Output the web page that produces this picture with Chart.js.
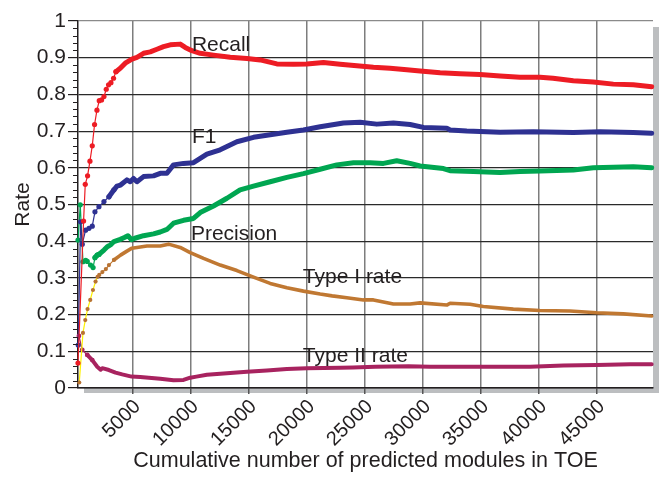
<!DOCTYPE html>
<html>
<head>
<meta charset="utf-8">
<script src="https://cdn.jsdelivr.net/npm/chart.js@4/dist/chart.umd.min.js"></script>
<style>
  html, body { margin: 0; padding: 0; background: #ffffff; }
  #wrap { width: 667px; height: 481px; }
</style>
</head>
<body>
<div id="wrap"><canvas id="c" width="667" height="481"></canvas></div>
<script>
// ---- data ----
const xTickValues = [5000, 10000, 15000, 20000, 25000, 30000, 35000, 40000, 45000];
const yTickValues = [0, 0.1, 0.2, 0.3, 0.4, 0.5, 0.6, 0.7, 0.8, 0.9, 1];

const recallX = [300, 780, 926, 1124, 1330, 1529, 1727, 1934, 2132, 2330, 2537, 2735, 2933, 3140, 3363, 3570, 3940, 4371, 4948, 5379, 5947, 6524, 7102, 7670, 8247, 9108, 9539, 10116, 10831, 11976, 13415, 14853, 16000, 17437, 18867, 20021, 21451, 22889, 24327, 25757, 27195, 28634, 29779, 31502, 33224, 34947, 36670, 38392, 40115, 41235, 42983, 44706, 46428, 48151, 49736];
const recallY = [0.068, 0.455, 0.555, 0.578, 0.618, 0.660, 0.718, 0.757, 0.783, 0.785, 0.794, 0.814, 0.826, 0.832, 0.844, 0.862, 0.871, 0.885, 0.896, 0.901, 0.912, 0.916, 0.923, 0.930, 0.935, 0.937, 0.928, 0.919, 0.912, 0.907, 0.901, 0.898, 0.894, 0.883, 0.882, 0.883, 0.887, 0.882, 0.878, 0.874, 0.871, 0.867, 0.864, 0.859, 0.856, 0.854, 0.850, 0.847, 0.847, 0.844, 0.837, 0.834, 0.828, 0.826, 0.821];

const f1X = [320, 521, 667, 952, 1245, 1529, 1761, 2106, 2537, 2967, 3398, 3656, 3966, 4517, 4802, 5086, 5379, 5947, 6808, 7386, 7963, 8531, 9392, 10253, 11408, 12553, 13992, 15422, 16860, 18298, 19728, 21167, 23173, 24612, 26050, 27480, 28918, 30063, 32079, 32363, 33801, 36670, 39538, 42983, 45279, 48151, 49736];
const f1Y = [0.117, 0.453, 0.392, 0.430, 0.435, 0.441, 0.480, 0.494, 0.508, 0.521, 0.540, 0.550, 0.553, 0.567, 0.562, 0.571, 0.562, 0.576, 0.578, 0.585, 0.585, 0.608, 0.612, 0.614, 0.637, 0.649, 0.671, 0.683, 0.690, 0.697, 0.703, 0.712, 0.722, 0.724, 0.719, 0.722, 0.718, 0.710, 0.708, 0.703, 0.700, 0.697, 0.698, 0.696, 0.698, 0.696, 0.694];

const precisionX = [300, 495, 728, 960, 1100, 1382, 1600, 1760, 1950, 2106, 2537, 2821, 3100, 3398, 3940, 4300, 4600, 4900, 5200, 5947, 6808, 7386, 7963, 8531, 9392, 10253, 10831, 11976, 13134, 14267, 15422, 16860, 18298, 19728, 21167, 22600, 24040, 25470, 26620, 27765, 28918, 29779, 31790, 32363, 34374, 36670, 38392, 40115, 42983, 44706, 48151, 49736];
const precisionY = [0.403, 0.499, 0.344, 0.348, 0.345, 0.335, 0.328, 0.355, 0.362, 0.364, 0.376, 0.385, 0.390, 0.399, 0.405, 0.410, 0.415, 0.404, 0.408, 0.415, 0.420, 0.425, 0.432, 0.449, 0.457, 0.462, 0.478, 0.496, 0.517, 0.540, 0.550, 0.562, 0.574, 0.584, 0.596, 0.608, 0.614, 0.614, 0.612, 0.619, 0.612, 0.605, 0.598, 0.592, 0.590, 0.587, 0.590, 0.591, 0.594, 0.600, 0.603, 0.600];

const typeIX = [409, 728, 926, 1124, 1356, 1589, 1813, 1990, 2132, 2400, 2700, 2967, 3398, 3966, 4517, 4948, 6240, 7386, 8100, 9108, 9969, 11120, 12553, 13992, 15422, 16860, 18298, 19728, 21167, 22200, 23464, 24894, 25757, 27480, 28918, 29779, 32079, 32363, 34086, 35231, 37814, 40115, 42699, 44999, 47296, 49736];
const typeIY = [0.015, 0.150, 0.185, 0.215, 0.240, 0.267, 0.290, 0.303, 0.308, 0.316, 0.324, 0.335, 0.349, 0.362, 0.373, 0.381, 0.387, 0.387, 0.392, 0.383, 0.369, 0.353, 0.335, 0.320, 0.302, 0.285, 0.273, 0.264, 0.256, 0.251, 0.246, 0.240, 0.240, 0.229, 0.229, 0.232, 0.226, 0.231, 0.228, 0.222, 0.215, 0.211, 0.210, 0.205, 0.202, 0.196];

const typeIIX = [380, 667, 1098, 1529, 1959, 2250, 2390, 2967, 3536, 4113, 4914, 5663, 7386, 8531, 9392, 9969, 10500, 11408, 13134, 14853, 16574, 18298, 20021, 22889, 24000, 25900, 28777, 30634, 33500, 36391, 39260, 42125, 44999, 47870, 49736];
const typeIIY = [0.142, 0.104, 0.090, 0.076, 0.058, 0.050, 0.054, 0.049, 0.042, 0.037, 0.031, 0.030, 0.025, 0.021, 0.022, 0.028, 0.031, 0.036, 0.040, 0.044, 0.048, 0.052, 0.054, 0.055, 0.056, 0.058, 0.059, 0.058, 0.058, 0.058, 0.058, 0.061, 0.063, 0.065, 0.065];

const seriesNames = ['Recall', 'F1', 'Precision', 'Type I rate', 'Type II rate'];
// label anchors (data coordinates) for the in-plot series names
const labelAtX = [10116, 10116, 10030, 19676, 19676];
const labelAtY = [0.918, 0.667, 0.403, 0.285, 0.0717];

// ---- styling ----
const TEXT = '#231f20';
const FONT = "'Liberation Sans', Arial, Helvetica, sans-serif";

function mk(name, xs, ys, color, o) {
  return {
    label: name,
    data: xs.map((x, i) => ({ x: x, y: ys[i] })),
    borderColor: color,
    backgroundColor: o.pointColor || color,
    pointBackgroundColor: o.pointColor || color,
    pointBorderWidth: 0,
    pointHoverRadius: 0,
    pointRadius: ctx => (ctx.raw && ctx.raw.x < o.markUntil) ? o.r : 0,
    borderWidth: o.w,
    borderJoinStyle: 'round',
    borderCapStyle: 'round',
    tension: 0,
    clip: false,
    segment: {
      borderWidth: ctx => ctx.p1.parsed.x <= o.thinUntil ? 1.2 : o.w,
      borderColor: ctx => (o.earlyColor && ctx.p1.parsed.x <= o.earlyUntil) ? o.earlyColor : color
    }
  };
}

const decor = {
  id: 'decor',
  beforeDraw(chart) {
    const { ctx, chartArea: a } = chart;
    ctx.save();
    ctx.fillStyle = '#bcbec0';
    ctx.fillRect(a.left + 6, a.top + 6, a.right - a.left, a.bottom - a.top - 1);
    ctx.fillStyle = '#ffffff';
    ctx.fillRect(a.left, a.top, a.right - a.left, a.bottom - a.top);
    ctx.restore();
  },
  afterDraw(chart) {
    const { ctx, chartArea: a, scales } = chart;
    const ys = scales.y;
    ctx.save();
    ctx.strokeStyle = TEXT;
    ctx.lineWidth = 1;
    for (let k = 0; k <= 50; k++) {
      if (k % 5 === 0) continue;
      const py = Math.round(ys.getPixelForValue(k / 50)) + 0.5;
      ctx.beginPath();
      ctx.moveTo(a.left - 5, py);
      ctx.lineTo(a.left, py);
      ctx.stroke();
    }
    ctx.restore();
  },
  afterDatasetsDraw(chart) {
    const { ctx, scales } = chart;
    ctx.save();
    ctx.fillStyle = TEXT;
    ctx.font = '21px ' + FONT;
    ctx.textAlign = 'left';
    ctx.textBaseline = 'alphabetic';
    seriesNames.forEach((n, i) => {
      ctx.fillText(n, scales.x.getPixelForValue(labelAtX[i]), scales.y.getPixelForValue(labelAtY[i]));
    });
    ctx.restore();
  }
};

new Chart(document.getElementById('c'), {
  type: 'line',
  data: {
    datasets: [
      mk('Recall', recallX, recallY, '#ed1c24', { w: 5, r: 2.6, thinUntil: 3570, markUntil: 3700 }),
      mk('F1', f1X, f1Y, '#2e3192', { w: 5, r: 2.6, thinUntil: 2967, markUntil: 3500 }),
      mk('Precision', precisionX, precisionY, '#00a651', { w: 5, r: 2.6, thinUntil: 1760, markUntil: 2200 }),
      mk('Type I rate', typeIX, typeIY, '#c07832', { w: 3.6, r: 2.1, thinUntil: 3398, markUntil: 3500, earlyColor: '#fff200', earlyUntil: 2132, pointColor: '#b87333' }),
      mk('Type II rate', typeIIX, typeIIY, '#a8235f', { w: 4, r: 2.4, thinUntil: 1098, markUntil: 1600 })
    ]
  },
  options: {
    responsive: false,
    animation: false,
    events: [],
    layout: { padding: { top: 21, right: 14, bottom: 0, left: 0 } },
    plugins: { legend: { display: false }, tooltip: { enabled: false }, title: { display: false } },
    scales: {
      x: {
        type: 'linear',
        min: 300,
        max: 49850,
        afterFit: s => { s.height = 93; },
        afterBuildTicks: s => { s.ticks = xTickValues.map(v => ({ value: v })); },
        ticks: {
          autoSkip: false,
          minRotation: 45,
          maxRotation: 45,
          color: TEXT,
          font: { family: FONT, size: 20 },
          padding: 1,
          labelOffset: 5,
          callback: v => String(v)
        },
        grid: { color: '#7d7d7d', lineWidth: 1.5, drawTicks: true, tickLength: 6, tickColor: '#555555' },
        border: { display: true, color: TEXT, width: 1.5 },
        title: {
          display: true,
          text: 'Cumulative number of predicted modules in TOE',
          color: TEXT,
          font: { family: FONT, size: 21.5 },
          padding: { top: 0, bottom: 7 }
        }
      },
      y: {
        type: 'linear',
        min: 0,
        max: 1,
        afterFit: s => { s.width = 78; },
        afterBuildTicks: s => { s.ticks = yTickValues.map(v => ({ value: v })); },
        ticks: {
          color: TEXT,
          font: { family: FONT, size: 21 },
          padding: 2,
          callback: v => String(+v.toFixed(1))
        },
        grid: {
          color: ctx => (ctx.tick && ctx.tick.value === 1) ? '#8a8a8a' : '#2a2a2a',
          lineWidth: 1.2, drawTicks: true, tickLength: 10, tickColor: TEXT
        },
        border: { display: true, color: TEXT, width: 1.5 },
        title: {
          display: true,
          text: 'Rate',
          color: TEXT,
          font: { family: FONT, size: 21 },
          padding: { top: 11, bottom: 0 }
        }
      }
    }
  },
  plugins: [decor]
});
</script>
</body>
</html>
